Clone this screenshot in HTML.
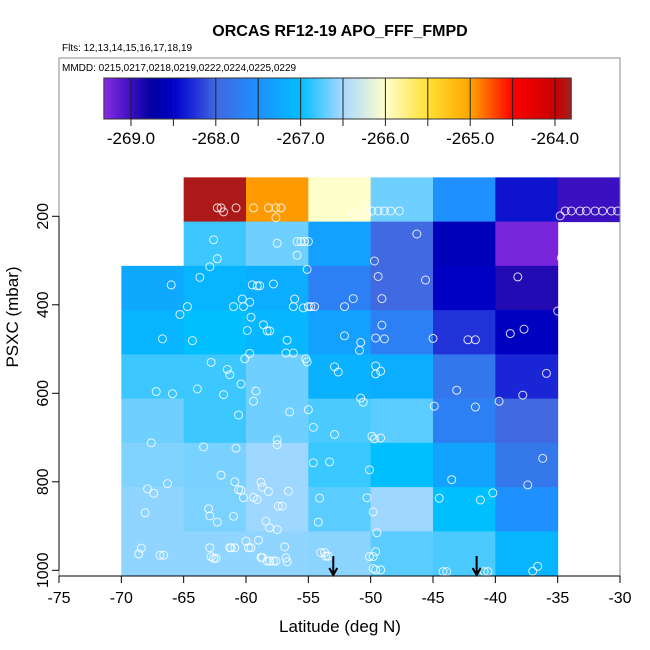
<!DOCTYPE html>
<html><head><meta charset="utf-8"><style>
body{margin:0;background:#fff;}
svg{display:block;font-family:"Liberation Sans",sans-serif;}
</style></head><body>
<svg id="chart" width="650" height="650" viewBox="0 0 650 650" xmlns="http://www.w3.org/2000/svg">
<rect width="650" height="650" fill="#fff"/>
<text x="340" y="36" text-anchor="middle" font-size="16" font-weight="bold">ORCAS RF12-19 APO_FFF_FMPD</text>
<text x="62" y="51" font-size="10">Flts: 12,13,14,15,16,17,18,19</text>
<g id="cells"></g>
<g id="pts"></g>
<g id="arrows"></g>
<rect x="59" y="58" width="561" height="518" fill="none" stroke="#888" stroke-width="1"/>
<text x="62" y="71" font-size="10">MMDD: 0215,0217,0218,0219,0222,0224,0225,0229</text>
<g id="cbar"></g>
<g id="xaxis"></g>
<g id="yaxis"></g>
<text x="340" y="632" text-anchor="middle" font-size="17">Latitude (deg N)</text>
<text transform="translate(18,317) rotate(-90)" text-anchor="middle" font-size="17">PSXC (mbar)</text>
</svg>
<script>
const latEdges = [-70,-65,-60,-55,-50,-45,-40,-35,-30];
const presTops = [112,212,312,412,512,612,712,812,912];
const binHeight = 100;
const gridRow0 = [null,-263.85,-264.97,-266.0,-266.67,-267.5,-268.4,-269.0];
const gridRow1 = [null,-266.82,-266.67,-267.33,-268.0,-268.6,-269.25,null];
const gridRow2 = [-267.25,-267.12,-267.18,-267.7,-268.0,-268.52,-268.9,null];
const gridRow3 = [-267.12,-267.0,-267.1,-267.33,-267.7,-268.24,-268.55,null];
const gridRow4 = [-266.82,-266.82,-266.67,-267.15,-267.18,-267.82,-268.3,null];
const gridRow5 = [-266.67,-266.82,-266.67,-266.78,-266.73,-267.7,-268.0,null];
const gridRow6 = [-266.62,-266.64,-266.53,-266.83,-267.0,-267.3,-267.81,null];
const gridRow7 = [-266.57,-266.63,-266.53,-266.73,-266.53,-267.0,-267.5,null];
const gridRow8 = [-266.57,-266.57,-266.57,-266.59,-266.73,-266.78,-267.12,null];
const grid = [gridRow0,gridRow1,gridRow2,gridRow3,gridRow4,gridRow5,gridRow6,gridRow7,gridRow8];
const ptLat = [-62.3,-62.0,-61.8,-60.8,-59.4,-58.2,-57.6,-57.2,-57.6,-51.3,-50.4,-50.3,-49.9,-49.4,-48.9,-48.4,-47.7,-34.8,-34.4,-33.9,-33.2,-32.7,-32.0,-31.4,-30.7,-30.2,
-62.6,-62.3,-62.9,-66.0,-63.7,-57.5,-55.9,-55.9,-55.6,-55.3,-55.0,-55.1,-46.3,-49.7,-45.6,-49.4,-38.2,-34.7,
-64.7,-65.3,-66.7,-64.3,-60.3,-61.0,-60.2,-59.7,-59.6,-59.9,-58.6,-58.3,-58.1,-59.5,-59.1,-58.9,-57.8,-56.1,-56.2,-55.4,-55.0,-54.8,-54.5,-56.7,-56.8,-56.2,-55.2,-59.7,-60.1,-62.8,-52.1,-51.4,-52.1,-50.8,-50.9,-49.6,-48.9,-49.1,-49.1,-45.0,-42.2,-41.6,-38.8,-37.7,-35.0,-52.6,-49.2,-61.3,
-61.5,-60.4,-67.2,-65.9,-63.9,-61.8,-59.2,-59.4,-60.6,-56.5,-55.0,-54.6,-52.9,-52.9,-55.1,-67.6,-63.4,-60.8,-57.5,-57.5,-54.6,-53.3,-62.0,-60.9,-60.6,-60.4,-60.2,-59.4,-59.1,-58.8,-58.7,-58.2,-56.6,-57.4,-57.1,-67.9,-67.4,-66.3,-68.1,-63.0,-62.9,-62.3,-61.0,-58.4,-58.1,-57.5,-54.1,-54.2,-68.4,-68.6,-66.9,-66.6,-62.9,-62.8,-62.6,-62.4,-61.3,-61.2,-60.9,-60.0,-59.8,-59.6,-59.0,-58.8,-58.7,-58.3,-58.1,-57.8,-57.6,-56.9,-56.8,-56.7,-54.0,-53.7,-53.6,-53.4,
-49.6,-49.6,-50.8,-50.6,-43.1,-44.9,-41.6,-39.7,-37.8,-35.9,-49.9,-49.7,-49.2,-50.1,-43.5,-36.2,-37.4,-50.3,-49.8,-49.5,-44.5,-41.2,-40.2,-49.6,-50.1,-49.8,-49.8,-49.6,-49.2,-44.2,-43.9,-40.9,-40.6,-37.0,-36.6];
const ptPres = [181,181,190,181,181,181,181,181,203,195,179,195,188,188,188,188,188,199,188,188,188,188,188,188,188,188,
253,296,314,355,338,261,288,257,257,257,257,320,240,301,344,336,337,294,
404,422,477,481,387,404,404,394,428,458,445,459,459,355,357,357,353,387,404,407,404,404,404,480,509,509,522,510,522,530,404,386,470,485,503,475,477,446,386,476,479,479,465,455,414,552,550,558,
546,579,596,601,590,603,595,618,649,642,637,677,693,540,529,712,721,724,705,716,757,755,785,800,818,819,836,835,840,801,812,822,821,855,855,816,826,804,870,861,877,891,878,889,904,908,837,891,950,963,966,966,949,969,973,973,949,949,949,934,949,949,932,971,971,979,979,979,979,947,972,981,960,960,968,968,
538,556,611,620,593,629,631,618,604,555,697,703,701,773,795,747,807,836,868,915,837,841,825,958,969,969,996,999,999,1003,1003,1003,1003,1002,991];
const arrowLat = [-53.0,-41.5];
const cbTicks = [-269,-268,-267,-266,-265,-264];
const cbTickLabels = ["-269.0","-268.0","-267.0","-266.0","-265.0","-264.0"];
const cbMin = -269.32, cbMax = -263.81;
const xTicks = [-75,-70,-65,-60,-55,-50,-45,-40,-35,-30];
const yTicks = [200,400,600,800,1000];

const NS="http://www.w3.org/2000/svg";
function el(tag,attrs,parent){const e=document.createElementNS(NS,tag);for(const k in attrs)e.setAttribute(k,attrs[k]);parent.appendChild(e);return e;}
const xS = lat => 59 + (lat+75)*12.467;
const yS = p => 216.3 + (p-200)*0.4425;
const cbX = v => 131 + (v+269)*84.8;
const stops = [[-269.32,[138,43,226]],[-269.0,[58,16,192]],[-268.75,[0,0,160]],[-268.5,[0,0,200]],[-268.25,[32,48,216]],[-268.0,[65,105,225]],[-267.5,[30,144,255]],[-267.0,[0,191,255]],[-266.5,[168,216,255]],[-266.0,[255,255,204]],[-265.5,[255,224,51]],[-265.0,[255,165,0]],[-264.5,[255,0,0]],[-264.0,[200,0,0]],[-263.81,[165,32,32]]];
function color(v){
  if(v<=stops[0][0]) return 'rgb('+stops[0][1].join(',')+')';
  for(let i=1;i<stops.length;i++){ if(v<=stops[i][0]){const a=stops[i-1],b=stops[i];const t=(v-a[0])/(b[0]-a[0]);
    return 'rgb('+[0,1,2].map(k=>Math.round(a[1][k]+(b[1][k]-a[1][k])*t)).join(',')+')';}}
  return 'rgb('+stops[stops.length-1][1].join(',')+')';
}
const cells=document.getElementById('cells');
grid.forEach((row,ri)=>{row.forEach((v,ci)=>{ if(v===null) return;
  const x0=xS(latEdges[ci]),x1=xS(latEdges[ci+1]),y0=yS(presTops[ri]),y1=yS(presTops[ri]+binHeight);
  const r=el('rect',{x:x0,y:y0,width:x1-x0+0.5,height:y1-y0+0.5,fill:color(v)},cells);
  
  
});});
const pts=document.getElementById('pts');
ptLat.forEach((lat,i)=>{
  const c=el('circle',{cx:xS(lat),cy:yS(ptPres[i]),r:4.0,fill:'none',stroke:'#fff','stroke-opacity':0.85,'stroke-width':1},pts);
  
  
});
const arr=document.getElementById('arrows');
arrowLat.forEach(lat=>{
  const x=xS(lat);
  const g=el('g',{},arr);
  
  
  el('line',{x1:x,y1:556,x2:x,y2:575,stroke:'#000','stroke-width':2},g);
  el('polyline',{points:(x-4)+',568 '+x+',575 '+(x+4)+',568',fill:'none',stroke:'#000','stroke-width':2},g);
});
const cb=document.getElementById('cbar');
const N=220;
for(let i=0;i<N;i++){const v0=cbMin+(cbMax-cbMin)*i/N,v1=cbMin+(cbMax-cbMin)*(i+1)/N;
  const r=el('rect',{x:cbX(v0),y:78,width:cbX(v1)-cbX(v0)+0.6,height:41,fill:color((v0+v1)/2)},cb);
  
  
}
el('rect',{x:cbX(cbMin),y:78,width:cbX(cbMax)-cbX(cbMin),height:41,fill:'none',stroke:'#333','stroke-width':1},cb);
for(let v=-269;v<=-264.001+0.01;v+=0.5){const x=cbX(v);
  el('line',{x1:x,y1:78,x2:x,y2:126,stroke:'#222','stroke-width':1},cb);}
cbTicks.forEach((v,i)=>{
  const t=el('text',{x:cbX(v),y:144,'text-anchor':'middle','font-size':17},cb);
  t.textContent=cbTickLabels[i];
  
  
});
const xa=document.getElementById('xaxis');
el('line',{x1:59,y1:576,x2:620,y2:576,stroke:'#000','stroke-width':1},xa);
xTicks.forEach(v=>{const x=xS(v);
  el('line',{x1:x,y1:576,x2:x,y2:583,stroke:'#000'},xa);
  const t=el('text',{x:x,y:603,'text-anchor':'middle','font-size':16},xa);
  t.textContent=v;
  
  
});
const ya=document.getElementById('yaxis');
el('line',{x1:59,y1:yS(200),x2:59,y2:yS(1000),stroke:'#000','stroke-width':1},ya);
yTicks.forEach(v=>{const y=yS(v);
  el('line',{x1:52,y1:y,x2:59,y2:y,stroke:'#000'},ya);
  const t=el('text',{transform:'translate(48,'+y+') rotate(-90)','text-anchor':'middle','font-size':16},ya);
  t.textContent=v;
  
  
});
</script>
</body></html>
